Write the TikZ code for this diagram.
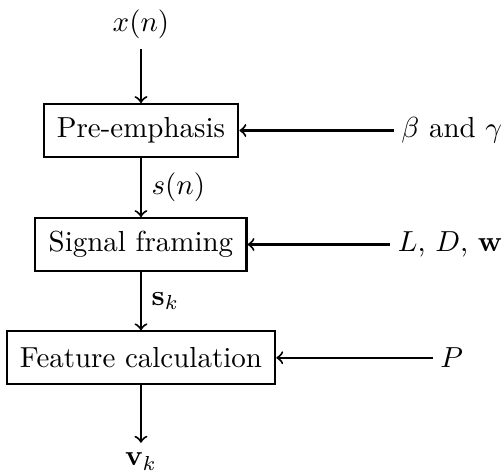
\documentclass[tikz,border=0pt]{standalone}
\usepackage{amsmath}
\usepackage{tikz}
\usetikzlibrary{positioning}

\tikzset{
  block/.style={draw, line width=0.7pt, minimum height=0.64cm, inner xsep=4.6pt, inner ysep=3.4pt},
  param/.style={inner sep=2.5pt},
  flow/.style={line width=0.7pt, ->}
}

\begin{document}
\begin{tikzpicture}
    \useasboundingbox (0,0) rectangle (6.09,-5.74);
    % signal chain
    \node (xn) at (1.71,-0.30) {$x(n)$};
    \node[block] (pre) at (1.71,-1.583) {Pre-emphasis};
    \node[block] (frm) at (1.71,-2.966) {Signal framing};
    \node[block] (feat) at (1.71,-4.34) {Feature calculation};
    \node (vk) at (1.71,-5.60) {$\mathbf{v}_k$};
    % parameters
    \node[param] (bg) at (5.48,-1.583) {$\beta$ and $\gamma$};
    \node[param] (ldw) at (5.46,-2.966) {$L$, $D$, $\mathbf{w}$};
    \node[param] (pp) at (5.48,-4.34) {$P$};
    \draw[flow] (xn) -- (pre);
    \draw[flow] (pre) -- node[right] {$s(n)$} (frm);
    \draw[flow] (frm) -- node[right] {$\mathbf{s}_k$} (feat);
    \draw[flow] (feat) -- (vk);
    \draw[flow] (bg) -- (pre);
    \draw[flow] (ldw) -- (frm);
    \draw[flow] (pp) -- (feat);
\end{tikzpicture}
\end{document}
